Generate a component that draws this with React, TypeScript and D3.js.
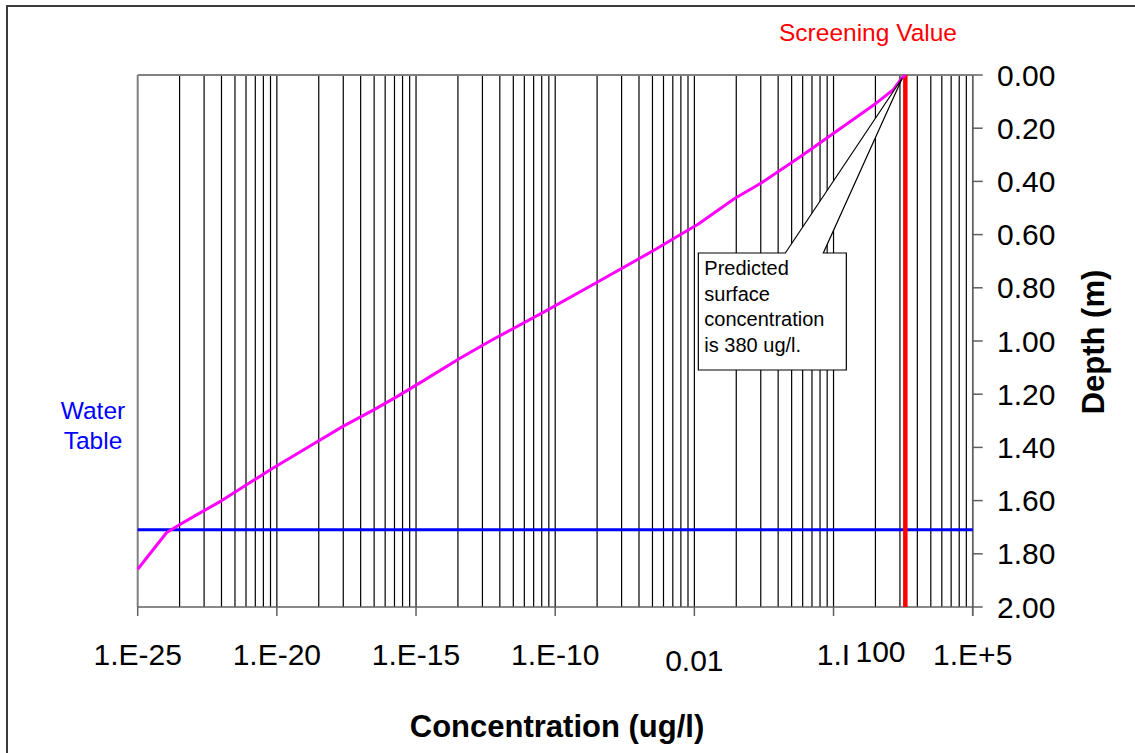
import React from "react";
import * as d3 from "d3";

// Concentration profile with depth (ug/l vs m)
const depths = [
  1.858, 1.72, 1.69, 1.65, 1.6, 1.485, 1.38, 1.32, 1.26, 1.21, 1.15, 1.065, 1.0,
  0.885, 0.78, 0.66, 0.56, 0.465, 0.405, 0.3, 0.22, 0.105, 0.055, 0.012, 0,
];
const concentrations = [
  1.0e-25, 1.1e-24, 3.3e-24, 1.5e-23, 1.05e-22, 5.6e-21, 2.7e-19, 2.45e-18,
  2.9e-17, 2.0e-16, 1.8e-15, 3.8e-14, 4.6e-13, 5.0e-11, 3.1e-9, 3.4e-7, 1.4e-5,
  2.7e-4, 2.6e-3, 8.1e-2, 0.98, 35, 141, 282, 380,
];

const screeningValue = 380;
const waterTableDepth = 1.71;

const xTickValues = [1e-25, 1e-20, 1e-15, 1e-10, 1e-5, 1e0, 1e5];
const xTickLabels = ["1.E-25", "1.E-20", "1.E-15", "1.E-10", "0.01", "1.I", "1.E+5"];
const yTickValues = [0, 0.2, 0.4, 0.6, 0.8, 1.0, 1.2, 1.4, 1.6, 1.8, 2.0];
const minorMultipliers = [2, 3, 4, 5, 6, 7, 8, 9];

const calloutLines = ["Predicted", "surface", "concentration", "is 380 ug/l."];

const W = 1135;
const H = 753;
const plot = { left: 137.7, right: 972.7, top: 75, bottom: 607 };
const FONT = "'Liberation Sans', Arial, Helvetica, sans-serif";

export default function App() {
  const x = d3.scaleLog().domain([1e-25, 1e5]).range([plot.left, plot.right]);
  const y = d3.scaleLinear().domain([0, 2]).range([plot.top, plot.bottom]);

  // Minor gridlines: each 5-decade major interval is split like a log 1..10 cycle
  const gridValues: number[] = [];
  xTickValues.forEach((v, i) => {
    if (i > 0) gridValues.push(v);
    if (i < xTickValues.length - 1) {
      minorMultipliers.forEach((k) => gridValues.push(v * Math.pow(k, 5)));
    }
  });

  const line = d3
    .line<number>()
    .x((_, i) => x(concentrations[i]))
    .y((d) => y(d));
  const profilePath = line(depths) || "";

  // Callout box anchored to the surface prediction
  const tipX = x(concentrations[concentrations.length - 1]);
  const tipY = y(depths[depths.length - 1]);
  const box = { left: tipX - 207, right: tipX - 59, top: tipY + 178, bottom: tipY + 295 };
  const pA = tipX - 120;
  const pB = tipX - 82;
  const calloutPath = `M${box.left},${box.top} L${pA},${box.top} L${tipX - 3},${tipY + 3} L${pB},${box.top} L${box.right},${box.top} L${box.right},${box.bottom} L${box.left},${box.bottom} Z`;

  const sx = x(screeningValue);
  const wy = y(waterTableDepth);

  return (
    <svg
      width={W}
      height={H}
      style={{ position: "absolute", left: 0, top: 0, background: "#fff" }}
      fontFamily={FONT}
    >
      <rect x={0} y={0} width={W} height={H} fill="#fff" />
      {/* chart frame */}
      <rect x={7} y={6} width={W + 40} height={H + 40} fill="none" stroke="#3a3a3a" strokeWidth={2} />

      {/* vertical gridlines */}
      {gridValues.map((v, i) => (
        <line key={i} x1={x(v)} x2={x(v)} y1={plot.top} y2={plot.bottom} stroke="#000" strokeWidth={1.2} />
      ))}

      {/* plot area border */}
      <line x1={plot.left} x2={plot.right} y1={plot.top} y2={plot.top} stroke="#808080" strokeWidth={2} />
      <line x1={plot.left} x2={plot.left} y1={plot.top} y2={plot.bottom} stroke="#808080" strokeWidth={2} />
      <line x1={plot.left} x2={plot.right} y1={plot.bottom} y2={plot.bottom} stroke="#606060" strokeWidth={1.5} />
      <line x1={plot.right} x2={plot.right} y1={plot.top} y2={plot.bottom + 9} stroke="#606060" strokeWidth={1.5} />

      {/* x axis ticks */}
      {xTickValues.map((v, i) => (
        <line key={i} x1={x(v)} x2={x(v)} y1={plot.bottom} y2={plot.bottom + 9} stroke="#606060" strokeWidth={1.5} />
      ))}
      {/* y axis ticks */}
      {yTickValues.map((v, i) => (
        <line key={i} x1={plot.right} x2={plot.right + 10} y1={y(v)} y2={y(v)} stroke="#606060" strokeWidth={1.5} />
      ))}

      {/* water table */}
      <line x1={plot.left} x2={plot.right} y1={wy} y2={wy} stroke="#0000ff" strokeWidth={3} />
      {/* screening value */}
      <line x1={sx} x2={sx} y1={plot.top} y2={plot.bottom} stroke="#ff0000" strokeWidth={4.5} />

      {/* concentration profile */}
      <path d={profilePath} fill="none" stroke="#ff00ff" strokeWidth={3} strokeLinejoin="round" />

      {/* callout */}
      <path d={calloutPath} fill="#fff" stroke="#000" strokeWidth={1.2} />
      {calloutLines.map((t, i) => (
        <text key={i} x={box.left + 6} y={box.top + 22 + i * 25.7} fontSize={20} fill="#000">
          {t}
        </text>
      ))}

      {/* x tick labels */}
      {xTickValues.map((v, i) => (
        <text
          key={i}
          x={x(v)}
          y={xTickLabels[i] === "0.01" ? 660 : 654}
          dy="0.35em"
          textAnchor="middle"
          fontSize={30}
          fill="#000"
        >
          {xTickLabels[i]}
        </text>
      ))}
      <text x={x(1e0) + 47} y={651} dy="0.35em" textAnchor="middle" fontSize={30} fill="#000">
        100
      </text>

      {/* y tick labels */}
      {yTickValues.map((v, i) => (
        <text key={i} x={997} y={y(v)} dy="0.35em" fontSize={30} fill="#000">
          {d3.format(".2f")(v)}
        </text>
      ))}

      {/* axis titles */}
      <text x={557} y={726} dy="0.35em" textAnchor="middle" fontSize={31} fontWeight="bold" fill="#000">
        Concentration (ug/l)
      </text>
      <text
        transform={`translate(1093,342) rotate(-90)`}
        dy="0.35em"
        textAnchor="middle"
        fontSize={31}
        fontWeight="bold"
        fill="#000"
      >
        Depth (m)
      </text>

      {/* annotations */}
      <text x={868} y={32} dy="0.35em" textAnchor="middle" fontSize={24.5} fill="#ff0000">
        Screening Value
      </text>
      <text x={93} y={410} dy="0.35em" textAnchor="middle" fontSize={24.5} fill="#0000ff">
        Water
      </text>
      <text x={93} y={440} dy="0.35em" textAnchor="middle" fontSize={24.5} fill="#0000ff">
        Table
      </text>
    </svg>
  );
}
